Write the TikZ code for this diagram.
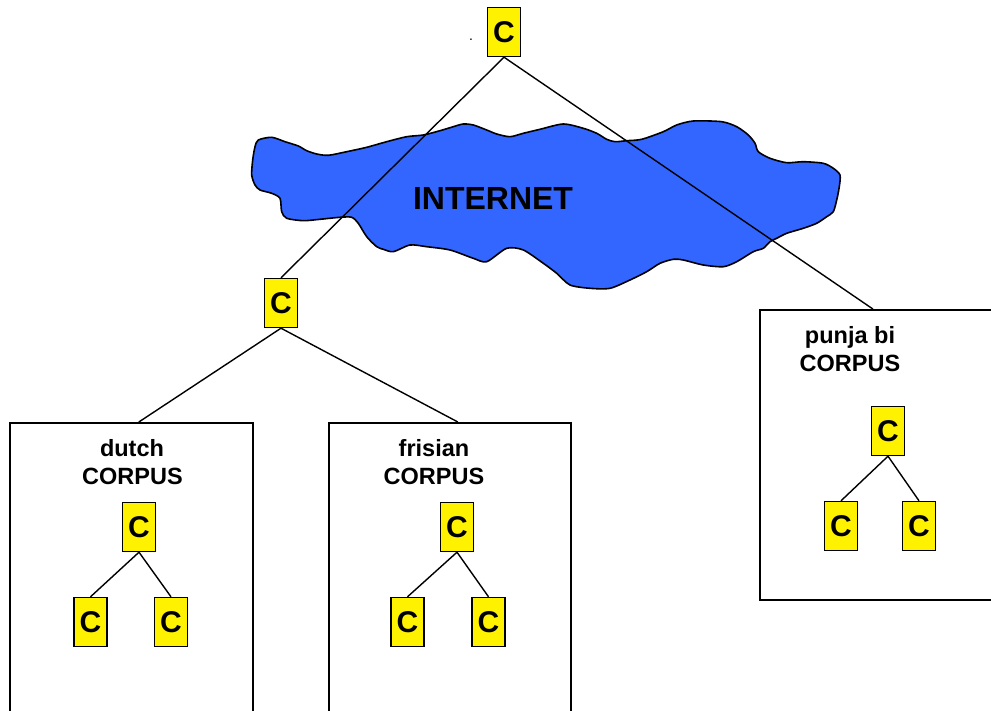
\documentclass[tikz,border=0pt]{standalone}
\usepackage{fontspec}
\setmainfont{Liberation Sans}
\definecolor{netblue}{RGB}{51,102,255}
\begin{document}
\begin{tikzpicture}[x=1pt,y=-1pt,
 cbox/.style={draw=black, line width=1.4pt, fill=yellow, minimum width=33pt, minimum height=49pt, inner sep=0pt, font=\fontsize{30}{30}\selectfont\bfseries},
 corpusbox/.style={draw=black, line width=1.7pt, inner sep=0pt, anchor=north west},
 link/.style={draw=black, line width=1.4pt},
 lbl/.style={anchor=base, inner sep=0pt, font=\fontsize{23.5}{28}\selectfont\bfseries}]
\useasboundingbox (0,0) rectangle (991,711);
% cloud
\draw[fill=netblue, line width=1.6pt, line join=round] plot[smooth cycle, tension=0.45] coordinates {
(258.3,140) (271.7,137.3) (285,141.7) (298.3,146) (306.7,150.7) (316.7,154) (328.3,155.3)
(346.7,151.7) (366.7,147.3) (386.7,141.7) (406.7,136.7) (423.3,135) (440,130.7) (453.3,126.7)
(463.3,124) (473.3,125) (486.7,130) (496.7,134) (510,136.7) (523.3,133.3) (540,129.3)
(563.3,124) (583.3,128.3) (596.7,133.3) (606.7,139.3) (615,141.7) (626.7,140.7) (641.7,139.3)
(663.3,131.7) (676.7,125) (693.3,121) (721.7,121.7) (736.7,126.7) (748.3,135) (755,143.3)
(758.3,151.7) (770,158.3) (786.7,162.7) (803.3,161.7) (823.3,163.3) (833.3,168.3) (840,175)
(839.3,186.7) (836.7,200) (833.3,211.7) (826.7,216.7) (816.7,223.3) (803.3,228.3) (786.7,233.3)
(776.7,238.3) (770,241.7) (763.3,248.3) (753.3,251.7) (736.7,261.7) (723.3,266.7) (703.3,265)
(683.3,260) (673.3,259.3) (660,263.3) (646.7,271.7) (630,280) (610,288.3) (590,288.3)
(570,285) (556.7,273.3) (543.3,263.3) (523.3,250) (506.7,248.3) (486.7,261.7) (473.3,258.3)
(450,250) (426.7,246.7) (410,245) (393.3,251.7) (383.3,249.3) (376.7,246.7) (366.7,236.7)
(358.3,223.3) (351.7,217.3) (340,217.3) (320,219.3) (303.3,220.7) (286.7,218.3) (281.7,211.7)
(280,198.3) (271.7,193.3) (260,190) (255,185) (251.7,175) (252.7,160) (255,146.7)};
% corpus boxes
\node[corpusbox, minimum width=243pt, minimum height=300pt] (dutch) at (9,422) {};
\node[corpusbox, minimum width=242pt, minimum height=300pt] (frisian) at (328,422) {};
\node[corpusbox, minimum width=250pt, minimum height=290pt] (punjabi) at (759,309) {};
% top level nodes
\node[cbox] (T) at (504,32) {C};
\node[cbox] (M) at (281,303) {C};
\node[anchor=base, inner sep=0pt, font=\fontsize{14}{14}\selectfont] (dot) at (471,41) {.};
% links
\draw[link] (T.south) -- (M.north);
\draw[link] (T.south) -- ([xshift=-12pt]punjabi.north);
\draw[link] (M.south) -- ([xshift=7.5pt]dutch.north);
\draw[link] (M.south) -- ([xshift=8pt]frisian.north);
% internet label
\node[anchor=base, inner sep=0pt, font=\fontsize{32}{32}\selectfont\bfseries] (net) at (493,210) {INTERNET};
% labels
\node[lbl] (dutchname) at (132,456) {dutch};
\node[lbl] (dutchcorp) at (132.5,484) {CORPUS};
\node[lbl] (frisname) at (434,456) {frisian};
\node[lbl] (friscorp) at (434,484) {CORPUS};
\node[lbl] (punjname) at (850,344) {punja bi};
\node[lbl] (punjcorp) at (850,372) {CORPUS};
% dutch tree
\node[cbox] (d0) at (139,527) {C};
\node[cbox] (d1) at (90.5,622) {C};
\node[cbox] (d2) at (171,622) {C};
\draw[link] (d0.south) -- (d1.north);
\draw[link] (d0.south) -- (d2.north);
% frisian tree
\node[cbox] (f0) at (457,527) {C};
\node[cbox] (f1) at (407.5,622) {C};
\node[cbox] (f2) at (488.5,622) {C};
\draw[link] (f0.south) -- (f1.north);
\draw[link] (f0.south) -- (f2.north);
% punjabi tree
\node[cbox] (p0) at (888,431) {C};
\node[cbox] (p1) at (841,526) {C};
\node[cbox] (p2) at (919,526) {C};
\draw[link] (p0.south) -- (p1.north);
\draw[link] (p0.south) -- (p2.north);
\end{tikzpicture}
\end{document}
